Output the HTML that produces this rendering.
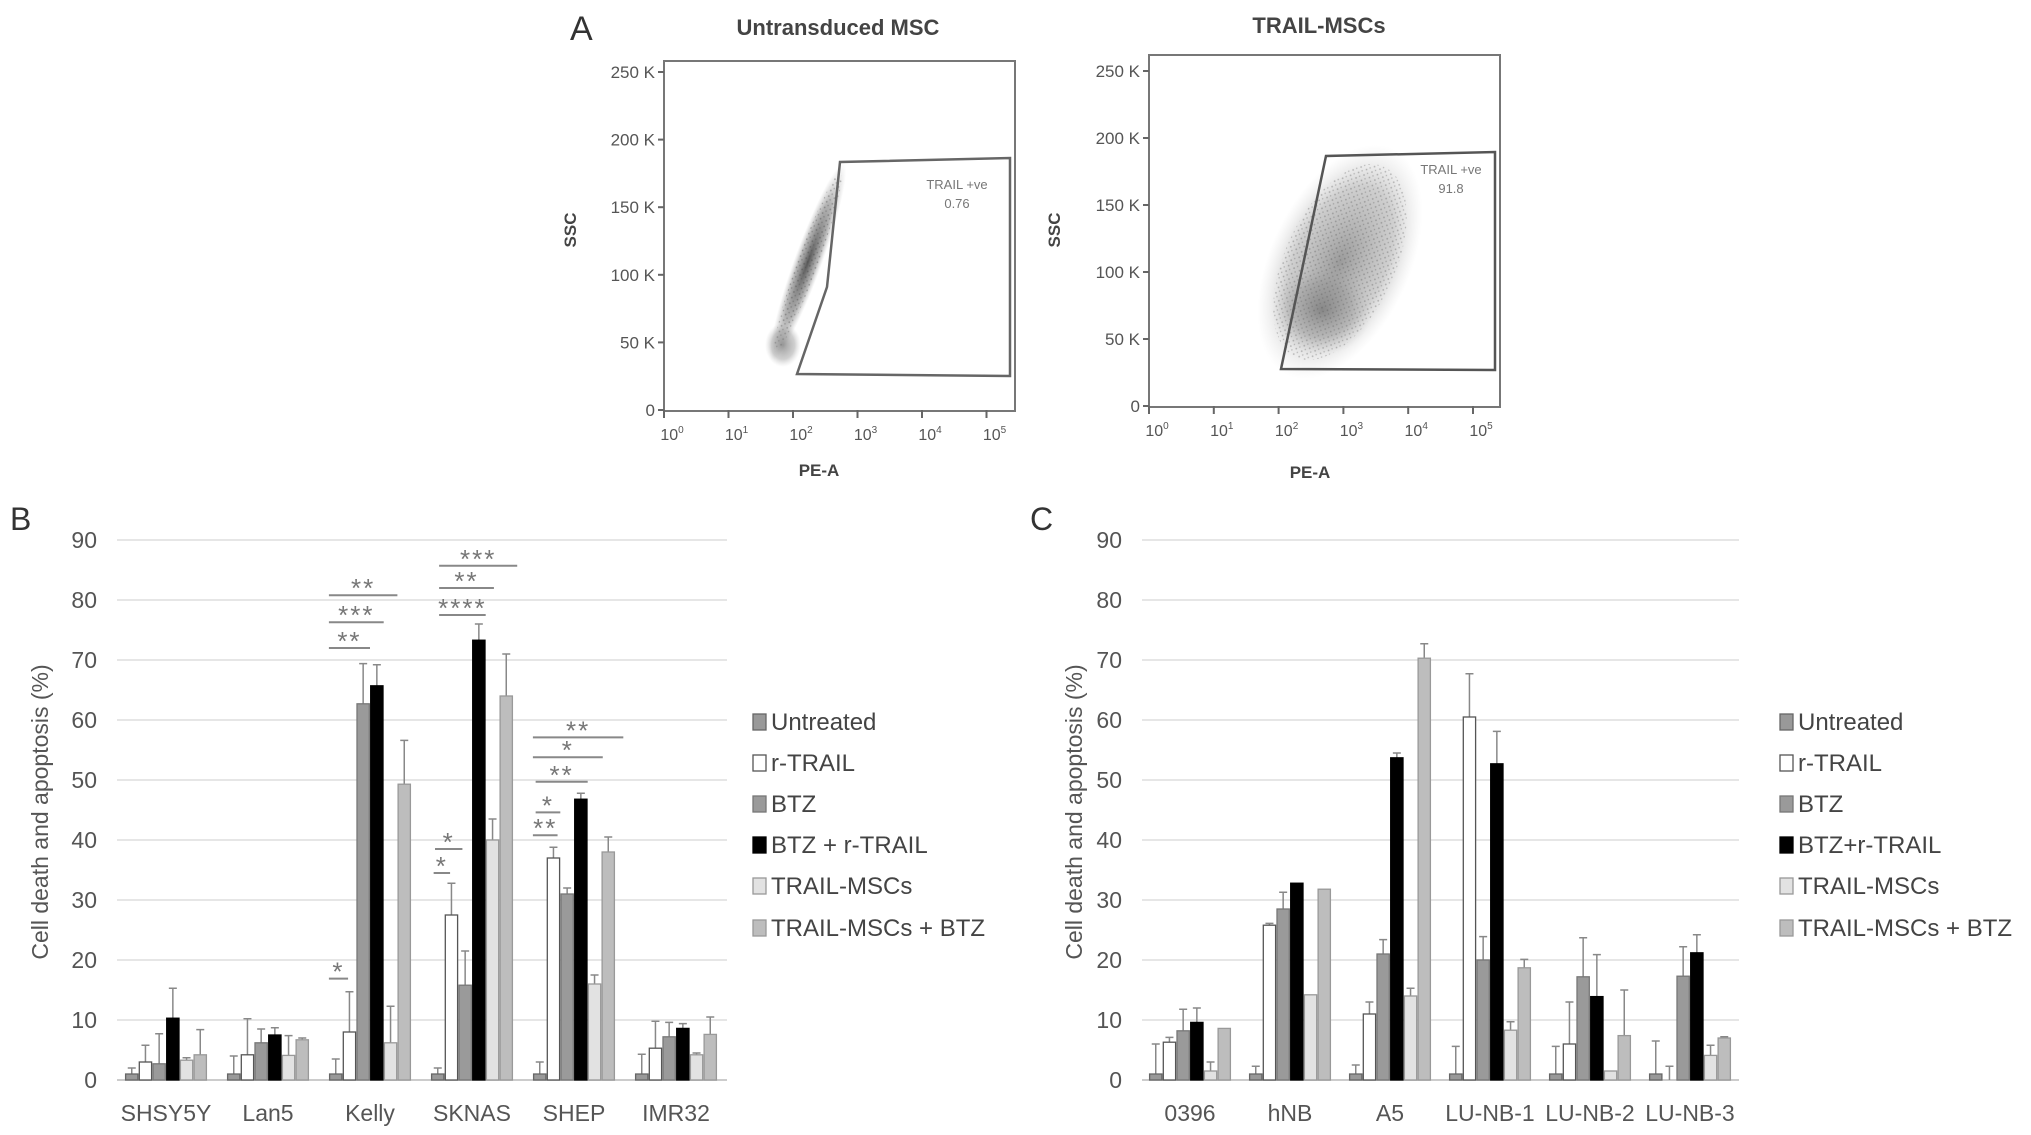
<!DOCTYPE html>
<html><head><meta charset="utf-8">
<style>
html,body{margin:0;padding:0;background:#fff;}
svg{display:block;font-family:"Liberation Sans",Arial,sans-serif;}
</style></head>
<body>
<svg id="fig" width="2031" height="1135" viewBox="0 0 2031 1135">
<defs>
<radialGradient id="cloud1" cx="50%" cy="50%" r="50%">
<stop offset="0" stop-color="#444" stop-opacity="0.9"/>
<stop offset="0.6" stop-color="#777" stop-opacity="0.55"/>
<stop offset="1" stop-color="#aaa" stop-opacity="0"/>
</radialGradient>
<radialGradient id="cloud2" cx="50%" cy="50%" r="50%">
<stop offset="0" stop-color="#666" stop-opacity="0.65"/>
<stop offset="0.65" stop-color="#888" stop-opacity="0.4"/>
<stop offset="1" stop-color="#bbb" stop-opacity="0"/>
</radialGradient>
<pattern id="speck" width="6" height="6" patternUnits="userSpaceOnUse">
<rect width="6" height="6" fill="none"/>
<circle cx="1" cy="1" r="0.9" fill="#333"/>
<circle cx="4" cy="3.5" r="0.8" fill="#444"/>
</pattern>
</defs>

<g>
<text x="570" y="40" font-size="34" fill="#333">A</text>
<text x="838" y="35" font-size="22" fill="#444" text-anchor="middle" font-weight="bold">Untransduced MSC</text>
<text x="1319" y="33" font-size="22" fill="#444" text-anchor="middle" font-weight="bold">TRAIL-MSCs</text>

<g>
<rect x="664" y="61" width="351" height="350" fill="none" stroke="#777" stroke-width="2"/>
<g transform="rotate(-70 808 262)">
<ellipse cx="808" cy="262" rx="105" ry="14" fill="url(#cloud1)"/>
<ellipse cx="808" cy="262" rx="95" ry="10" fill="url(#speck)" opacity="0.35"/>
</g>
<ellipse cx="783" cy="345" rx="18" ry="22" fill="url(#cloud2)"/>
<polygon points="797,374 827,287 840,162 1010,158 1010,376" fill="none" stroke="#666" stroke-width="2.5"/>
<text x="957" y="189" font-size="13" fill="#777" text-anchor="middle">TRAIL +ve</text>
<text x="957" y="208" font-size="13" fill="#777" text-anchor="middle">0.76</text>
<text x="576" y="230" font-size="17" fill="#444" font-weight="bold" text-anchor="middle" transform="rotate(-90 576 230)">SSC</text>
<text x="819" y="476" font-size="17" fill="#444" font-weight="bold" text-anchor="middle">PE-A</text>
<g id="a1ticks"></g>
</g>

<g>
<rect x="1149" y="55" width="351" height="352" fill="none" stroke="#777" stroke-width="2"/>
<g transform="rotate(-65 1340 262)">
<ellipse cx="1340" cy="262" rx="125" ry="70" fill="url(#cloud2)"/>
<ellipse cx="1340" cy="262" rx="105" ry="55" fill="url(#speck)" opacity="0.3"/>
</g>
<ellipse cx="1322" cy="310" rx="50" ry="45" fill="url(#cloud1)" opacity="0.5"/>
<polygon points="1281,369 1326,156 1495,152 1495,370" fill="none" stroke="#555" stroke-width="2.5"/>
<text x="1451" y="174" font-size="13" fill="#777" text-anchor="middle">TRAIL +ve</text>
<text x="1451" y="193" font-size="13" fill="#777" text-anchor="middle">91.8</text>
<text x="1060" y="230" font-size="17" fill="#444" font-weight="bold" text-anchor="middle" transform="rotate(-90 1060 230)">SSC</text>
<text x="1310" y="478" font-size="17" fill="#444" font-weight="bold" text-anchor="middle">PE-A</text>
<g id="a2ticks"></g>
</g>
</g>

<g id="panelB"></g>
<g id="panelC"></g>
</svg>

<script>
// ---- Panel B data ----
const catsB = ["SHSY5Y","Lan5","Kelly","SKNAS","SHEP","IMR32"];
const untreatedB = [1,1,1,1,1,1];
const rtrailB = [3,4.2,8,27.5,37,5.3];
const btzB = [2.7,6.2,62.7,15.8,31,7.2];
const btzRtrailB = [10.3,7.5,65.7,73.3,46.8,8.6];
const trailMscB = [3.3,4.1,6.2,40,16,4.2];
const comboB = [4.2,6.7,49.3,64,38,7.6];
const errUntreatedB = [1,3,2.5,1,2,3.3];
const errRtrailB = [2.8,6,6.7,5.3,1.8,4.5];
const errBtzB = [5,2.3,6.7,5.7,1,2.4];
const errBtzRtrailB = [5,1.2,3.5,2.7,1,0.8];
const errTrailMscB = [0.4,3.3,6.1,3.5,1.5,0.3];
const errComboB = [4.2,0.3,7.3,7,2.5,2.9];
const legendB = ["Untreated","r-TRAIL","BTZ","BTZ + r-TRAIL","TRAIL-MSCs","TRAIL-MSCs + BTZ"];
const sigCat = [2,2,2,2, 3,3,3,3,3, 4,4,4,4,4];
const sigStart = [0,0,0,0, 0.6,0.6,0.6,0.3,0.2, 0,0,0.2,0.2,0];
const sigEnd = [5,4,3,1.4, 6.3,4.6,4,2.3,1.4, 6.6,5.1,4,2,1.8];
const sigY = [80.8,76.3,72,16.9, 85.7,82,77.5,38.5,34.5, 57.1,53.8,49.7,44.6,40.8];
const sigStars = ["**","***","**","*", "***","**","****","*","*", "**","*","**","*","**"];

// ---- Panel C data ----
const catsC = ["0396","hNB","A5","LU-NB-1","LU-NB-2","LU-NB-3"];
const untreatedC = [1,1,1,1,1,1];
const rtrailC = [6.3,25.8,11,60.5,6,0];
const btzC = [8.2,28.5,21,20,17.2,17.3];
const btzRtrailC = [9.6,32.8,53.7,52.7,13.9,21.2];
const trailMscC = [1.5,14.2,14,8.3,1.5,4.1];
const comboC = [8.6,31.8,70.3,18.7,7.4,7];
const errUntreatedC = [5,1.3,1.5,4.6,4.6,5.5];
const errRtrailC = [0.8,0.3,2,7.2,7,2.3];
const errBtzC = [3.6,2.8,2.4,3.9,6.5,4.9];
const errBtzRtrailC = [2.4,0,0.8,5.4,7,3];
const errTrailMscC = [1.5,0,1.3,1.4,0,1.7];
const errComboC = [0,0,2.4,1.4,7.6,0.2];
const legendC = ["Untreated","r-TRAIL","BTZ","BTZ+r-TRAIL","TRAIL-MSCs","TRAIL-MSCs + BTZ"];

const yTicks = [0,10,20,30,40,50,60,70,80,90];
const flowYTicks = ["0","50 K","100 K","150 K","200 K","250 K"];
const flowXTicks = ["0","1","2","3","4","5"];

const NS = "http://www.w3.org/2000/svg";
function mk(tag, attrs, parent){
  const e = document.createElementNS(NS, tag);
  for (const k in attrs) e.setAttribute(k, attrs[k]);
  parent.appendChild(e);
  return e;
}
const fills = ["#999","#fff","#9a9a9a","#000","#e2e2e2","#bdbdbd"];
const strokes = ["#666","#555","#777","#000","#999","#999"];

function drawPanel(g, opts){
  const y0 = 1080, pxPer = 6.0;
  const yS = v => y0 - v*pxPer;
  const xL = opts.xL, xR = opts.xR, c0 = opts.c0, step = opts.step, bw = 13.7;
  const cx = i => c0 + i*step;
  const bx = (i,j) => cx(i) + (j-3)*bw;
  const lbl = mk('text', {x: opts.lx, y: 530, 'font-size': 32, fill: '#333'}, g);
  lbl.textContent = opts.label;
  
  
  yTicks.forEach(t => {
    if (t > 0) {
      const gl = mk('line', {x1: xL, x2: xR, y1: yS(t), y2: yS(t), stroke: '#e6e6e6', 'stroke-width': 2}, g);
      
      
    }
    const tx = mk('text', {x: xL - 20, y: yS(t) + 8, 'font-size': 23, fill: '#555', 'text-anchor': 'end'}, g);
    tx.textContent = t;
    
    
  });
  const ax = mk('line', {x1: xL, x2: xR, y1: y0, y2: y0, stroke: '#ccc', 'stroke-width': 2}, g);
  
  
  const yt = mk('text', {x: opts.ytx, y: 812, 'font-size': 23, fill: '#555', 'text-anchor': 'middle', transform: 'rotate(-90 ' + opts.ytx + ' 812)'}, g);
  yt.textContent = 'Cell death and apoptosis (%)';
  
  
  opts.series.forEach((s, j) => {
    s.forEach((v, i) => {
      const x = bx(i, j);
      const top = yS(v);
      const e = opts.errs[j][i];
      if (e > 0) {
        const mid = x + bw/2;
        const er = mk('path', {d: 'M' + mid + ' ' + top + 'V' + yS(v+e) + 'M' + (mid-4) + ' ' + yS(v+e) + 'H' + (mid+4), stroke: '#888', 'stroke-width': 1.5, fill: 'none'}, g);
        
        
      }
      const r = mk('rect', {x: x + 0.7, y: top, width: bw - 1.4, height: Math.max(0, y0 - top), fill: fills[j], stroke: strokes[j], 'stroke-width': 1.3}, g);
      
      
    });
  });
  opts.cats.forEach((c, i) => {
    const t = mk('text', {x: cx(i), y: 1121, 'font-size': 23, fill: '#555', 'text-anchor': 'middle'}, g);
    t.textContent = c;
    
    
  });
  const rowsY = [730, 771, 812, 853, 894, 936];
  opts.legend.forEach((n, j) => {
    const sq = mk('rect', {x: opts.legX, y: rowsY[j] - 16, width: 13, height: 16, fill: fills[j], stroke: strokes[j], 'stroke-width': 1.3}, g);
    
    
    const t = mk('text', {x: opts.legX + 18, y: rowsY[j], 'font-size': 24, fill: '#444'}, g);
    t.textContent = n;
    
    
  });
  if (opts.sig) {
    opts.sig.cat.forEach((ci, k) => {
      const x1 = cx(ci) + (opts.sig.s[k] - 3)*bw, x2 = cx(ci) + (opts.sig.e[k] - 3)*bw;
      const y = yS(opts.sig.y[k]);
      const ln = mk('line', {x1: x1, x2: x2, y1: y, y2: y, stroke: '#888', 'stroke-width': 2}, g);
      
      
      const st = mk('text', {x: (x1 + x2)/2, y: y + 2, 'font-size': 26, fill: '#777', 'text-anchor': 'middle', 'letter-spacing': 2}, g);
      st.textContent = opts.sig.t[k];
      
      
    });
  }
}

drawPanel(document.getElementById('panelB'), {
  label: 'B', lx: 10, xL: 117, xR: 727, c0: 166, step: 102, ytx: 48,
  cats: catsB, legend: legendB, legX: 753,
  series: [untreatedB, rtrailB, btzB, btzRtrailB, trailMscB, comboB],
  errs: [errUntreatedB, errRtrailB, errBtzB, errBtzRtrailB, errTrailMscB, errComboB],
  sig: {cat: sigCat, s: sigStart, e: sigEnd, y: sigY, t: sigStars}
});
drawPanel(document.getElementById('panelC'), {
  label: 'C', lx: 1030, xL: 1142, xR: 1739, c0: 1190, step: 100, ytx: 1082,
  cats: catsC, legend: legendC, legX: 1780,
  series: [untreatedC, rtrailC, btzC, btzRtrailC, trailMscC, comboC],
  errs: [errUntreatedC, errRtrailC, errBtzC, errBtzRtrailC, errTrailMscC, errComboC]
});

function flowTicks(g, x0, y0, yTop, decade){
  flowYTicks.forEach((t, i) => {
    const y = y0 - i*(y0 - yTop)/5;
    mk('line', {x1: x0 - 6, x2: x0, y1: y, y2: y, stroke: '#666', 'stroke-width': 2}, g);
    const tx = mk('text', {x: x0 - 9, y: y + 6, 'font-size': 17, fill: '#555', 'text-anchor': 'end'}, g);
    tx.textContent = t;
    
    
  });
  flowXTicks.forEach((t, i) => {
    const x = x0 + i*decade;
    mk('line', {x1: x, x2: x, y1: y0, y2: y0 + 8, stroke: '#666', 'stroke-width': 2}, g);
    const tx = mk('text', {x: x + 8, y: y0 + 30, 'font-size': 16, fill: '#555', 'text-anchor': 'middle'}, g);
    tx.textContent = '10';
    const sup = mk('tspan', {dy: -7, 'font-size': 10}, tx);
    sup.textContent = t;
    
    
  });
}
flowTicks(document.getElementById('a1ticks'), 664, 410, 72, 64.5);
flowTicks(document.getElementById('a2ticks'), 1149, 406, 71, 64.8);
</script>
</body></html>
